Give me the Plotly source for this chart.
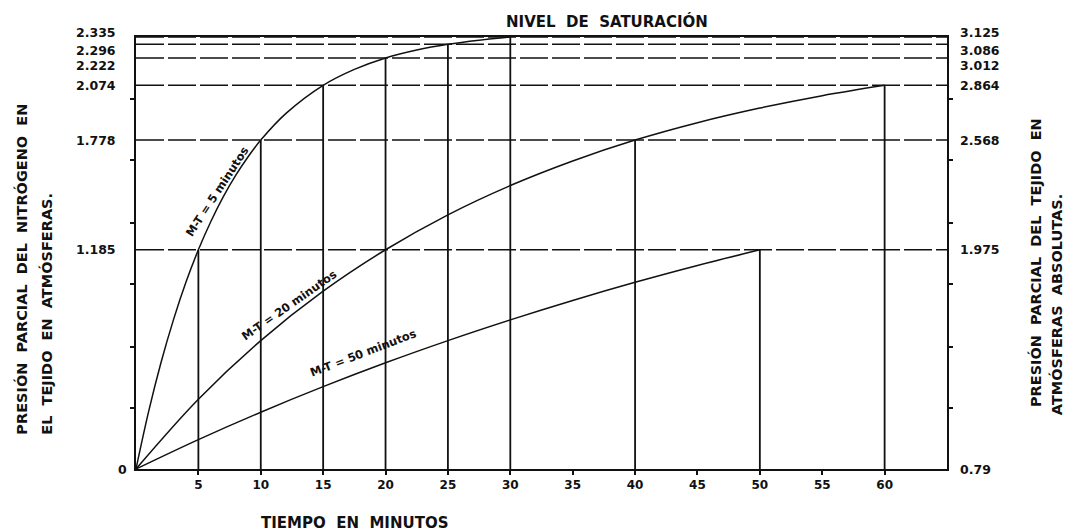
import plotly.graph_objects as go

# ---- data ----
t_5 = [0, 1, 2, 3, 4, 5, 6, 7, 8, 9, 10, 12, 15, 17.5, 20, 22.5, 25, 27.5, 30]
p_5 = [0, 0.307, 0.574, 0.806, 1.009, 1.185, 1.338, 1.472, 1.588, 1.689, 1.778,
       1.921, 2.074, 2.160, 2.222, 2.265, 2.296, 2.318, 2.335]

t_20 = [0, 5, 10, 15, 20, 25, 30, 35, 40, 45, 50, 55, 60]
p_20 = [0, 0.377, 0.694, 0.961, 1.185, 1.374, 1.532, 1.665, 1.778, 1.872, 1.951, 2.018, 2.074]

t_50 = [0, 5, 10, 15, 20, 25, 30, 35, 40, 45, 50]
p_50 = [0, 0.159, 0.307, 0.445, 0.574, 0.694, 0.806, 0.911, 1.009, 1.100, 1.185]

left_vals = [0, 1.185, 1.778, 2.074, 2.222, 2.296, 2.335]
left_text = ["0", "1.185", "1.778", "2.074", "2.222", "2.296", "2.335"]
right_text = ["0.79", "1.975", "2.568", "2.864", "3.012", "3.086", "3.125"]

vert_x = [5, 10, 15, 20, 25, 30, 40, 50, 60]
vert_top = [1.185, 1.778, 2.074, 2.222, 2.296, 2.335, 1.778, 1.185, 2.074]

x_ticks = [5, 10, 15, 20, 25, 30, 35, 40, 45, 50, 55, 60]
x_max = 65
y_minor = [0.33, 0.66, 1.0, 1.33, 1.67, 2.0]

FONT = "DejaVu Sans"
BLK = "#111111"

fig = go.Figure()

# horizontal reference lines
hx, hy = [], []
for v in left_vals[1:]:
    hx += [0, x_max, None]
    hy += [v, v, None]
fig.add_trace(go.Scatter(x=hx, y=hy, mode="lines",
                         line=dict(color=BLK, width=1.5, dash="28px,4px"),
                         hoverinfo="skip", showlegend=False))

# vertical reference lines
vx, vy = [], []
for xv, top in zip(vert_x, vert_top):
    vx += [xv, xv, None]
    vy += [0, top, None]
fig.add_trace(go.Scatter(x=vx, y=vy, mode="lines",
                         line=dict(color=BLK, width=1.8),
                         hoverinfo="skip", showlegend=False))

# curves
for tx, py in [(t_5, p_5), (t_20, p_20), (t_50, p_50)]:
    fig.add_trace(go.Scatter(x=tx, y=py, mode="lines",
                             line=dict(color=BLK, width=1.5, shape="spline"),
                             showlegend=False))

ann = []
tick_font = dict(family=FONT, size=12.5, color=BLK, weight="bold")
# left tick labels
left_shift = [0, 0, 0, 0, -8, -6, 5]
for v, txt, s in zip(left_vals, left_text, left_shift):
    ann.append(dict(x=-0.009 if txt == "0" else -0.022, xref="paper", y=v, yref="y",
                    yshift=s, text=txt, showarrow=False, xanchor="right",
                    yanchor="middle", font=tick_font))
# right tick labels
for v, txt, s in zip(left_vals, right_text, left_shift):
    ann.append(dict(x=1.013, xref="paper", y=v, yref="y", yshift=s,
                    text=txt, showarrow=False, xanchor="left", yanchor="middle",
                    font=tick_font))

# curve labels
for xx, yy, txt, ang in [(6.55, 1.50, "M-T = 5 minutos", -57),
                         (12.3, 0.885, "M-T = 20 minutos", -35),
                         (18.2, 0.625, "M-T = 50 minutos", -21)]:
    ann.append(dict(x=xx, y=yy, xref="x", yref="y", text=txt, textangle=ang,
                    showarrow=False,
                    font=dict(family=FONT, size=11.5, color=BLK, weight="bold")))

# axis titles
title_font = dict(family=FONT, size=14.5, color=BLK, weight="bold")
for xx, yy, txt in [(-0.141, 0.463, "PRESIÓN  PARCIAL  DEL  NITRÓGENO  EN"),
                    (-0.110, 0.359, "EL  TEJIDO  EN  ATMÓSFERAS."),
                    (1.1085, 0.479, "PRESIÓN  PARCIAL  DEL  TEJIDO  EN"),
                    (1.136, 0.380, "ATMÓSFERAS  ABSOLUTAS.")]:
    ann.append(dict(x=xx, y=yy, xref="paper", yref="paper", text=txt,
                    textangle=-90, showarrow=False, xanchor="center",
                    yanchor="middle", font=title_font))
ann.append(dict(x=0.27, y=-0.125, xref="paper", yref="paper", xanchor="center",
                yanchor="middle", text="TIEMPO  EN  MINUTOS", showarrow=False,
                font=dict(family=FONT, size=15, color=BLK, weight="bold")))
ann.append(dict(x=0.581, y=1.035, xref="paper", yref="paper", xanchor="center",
                yanchor="middle", text="NIVEL  DE  SATURACIÓN", showarrow=False,
                font=dict(family=FONT, size=15, color=BLK, weight="bold")))

fig.update_layout(
    width=1068, height=532,
    margin=dict(l=136, r=121, t=37, b=63),
    plot_bgcolor="white", paper_bgcolor="white",
    annotations=ann,
    xaxis=dict(range=[0, x_max], tickvals=x_ticks,
               ticktext=[str(v) for v in x_ticks],
               showgrid=False, zeroline=False, showline=True, linecolor=BLK,
               linewidth=2, mirror=True, ticks="outside", ticklen=4,
               tickcolor=BLK, tickwidth=1.5,
               tickfont=dict(family=FONT, size=12, color=BLK, weight="bold")),
    yaxis=dict(range=[0, 2.335], tickvals=y_minor, ticktext=[""] * len(y_minor),
               showgrid=False, zeroline=False, showline=True, linecolor=BLK,
               linewidth=2, mirror="ticks", ticks="outside", ticklen=4,
               tickcolor=BLK, tickwidth=1.5),
)

fig.write_html("out.html", config={"displayModeBar": False},
               post_script="document.body.style.margin='0';")
